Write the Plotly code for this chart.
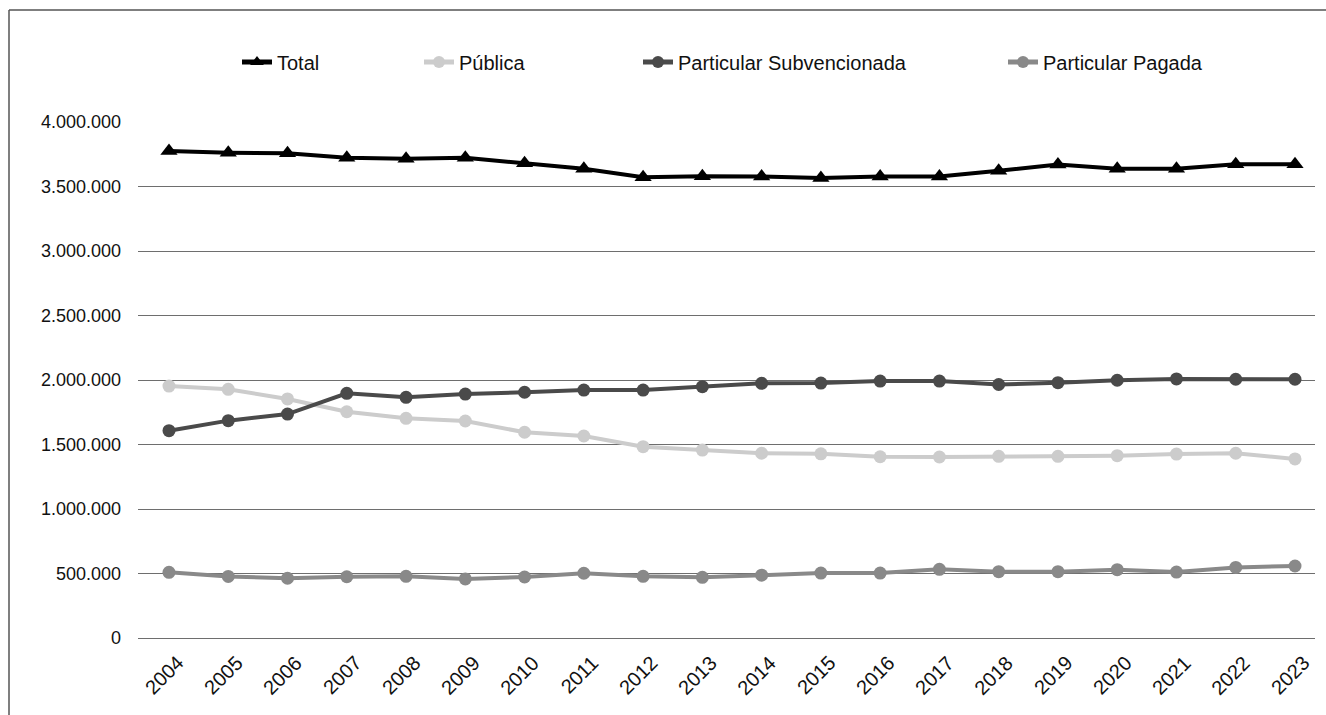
import plotly.graph_objects as go

# Matrícula por dependencia administrativa, 2004-2023
years = ["2004", "2005", "2006", "2007", "2008", "2009", "2010", "2011", "2012", "2013",
         "2014", "2015", "2016", "2017", "2018", "2019", "2020", "2021", "2022", "2023"]

total = [3775000, 3762000, 3757000, 3723000, 3716000, 3722000, 3680000, 3637000, 3572000, 3580000,
         3577000, 3566000, 3577000, 3577000, 3622000, 3670000, 3638000, 3638000, 3672000, 3672000]

publica = [1953000, 1928000, 1853000, 1754000, 1703000, 1682000, 1595000, 1566000, 1483000, 1457000,
           1432000, 1428000, 1405000, 1403000, 1408000, 1408000, 1413000, 1426000, 1432000, 1388000]

subvencionada = [1607000, 1685000, 1736000, 1897000, 1866000, 1891000, 1905000, 1922000, 1922000, 1948000,
                 1974000, 1976000, 1992000, 1992000, 1965000, 1979000, 1998000, 2008000, 2006000, 2006000]

pagada = [509000, 477000, 463000, 475000, 478000, 458000, 473000, 502000, 478000, 470000,
          487000, 503000, 503000, 532000, 514000, 514000, 530000, 511000, 547000, 558000]

y_ticks = [0, 500000, 1000000, 1500000, 2000000, 2500000, 3000000, 3500000, 4000000]
y_tick_text = ["0", "500.000", "1.000.000", "1.500.000", "2.000.000",
               "2.500.000", "3.000.000", "3.500.000", "4.000.000"]

W, H = 1326, 715
PL, PR, PT, PB = 138, 1315, 122, 638   # plot area in pixels
pw, ph = PR - PL, PB - PT


def px(x):
    return (x - PL) / pw


def py(y):
    return (PB - y) / ph


FONT = "Liberation Sans, Arial, sans-serif"

series = [
    ("Total", total, "#000000", "triangle-up", 15, "legend", 280),
    ("Pública", publica, "#cccccc", "circle", 13, "legend2", 462),
    ("Particular Subvencionada", subvencionada, "#4a4a4a", "circle", 13, "legend3", 681),
    ("Particular Pagada", pagada, "#898989", "circle", 13, "legend4", 1046),
]

fig = go.Figure()
legends = {}
for name, vals, color, symbol, size, leg, text_x in series:
    fig.add_trace(go.Scatter(
        x=years, y=vals, name=name, mode="lines+markers",
        line=dict(color=color, width=4),
        marker=dict(color=color, symbol=symbol, size=size),
        legend=leg,
    ))
    legends[leg] = dict(
        x=px(text_x - 43), y=py(62), xanchor="left", yanchor="middle",
        orientation="h", bgcolor="rgba(0,0,0,0)", borderwidth=0,
        font=dict(family=FONT, size=20, color="#111111"),
        itemsizing="constant",
    )

# Year labels, rotated and centred under each point
annotations = []
for i, yr in enumerate(years):
    annotations.append(dict(
        x=i - 0.08, y=py(675), xref="x", yref="paper", text=yr, showarrow=False,
        textangle=-45, xanchor="center", yanchor="middle",
        font=dict(family=FONT, size=20, color="#111111"),
    ))

shapes = [
    # outer frame (left and top edges)
    dict(type="line", xref="paper", yref="paper", x0=px(9), x1=px(9), y0=py(10), y1=py(716),
         line=dict(color="#555555", width=1.5)),
    dict(type="line", xref="paper", yref="paper", x0=px(9), x1=px(1327), y0=py(10), y1=py(10),
         line=dict(color="#555555", width=1.5)),
]

fig.update_layout(
    width=W, height=H,
    margin=dict(l=PL, r=W - PR, t=PT, b=H - PB),
    paper_bgcolor="white", plot_bgcolor="white",
    showlegend=True,
    annotations=annotations,
    shapes=shapes,
    **legends,
)

fig.update_xaxes(
    type="category", range=[-0.523, 19.3375],
    showticklabels=False, showgrid=False, zeroline=False, showline=False, ticks="",
)
fig.update_yaxes(
    range=[0, 4000000], tickvals=y_ticks, ticktext=y_tick_text,
    showgrid=True, gridcolor="#6e6e6e", gridwidth=1,
    zeroline=True, zerolinecolor="#6e6e6e", zerolinewidth=1,
    showline=False, ticks="",
    tickfont=dict(family=FONT, size=18, color="#111111"),
    ticklabelstandoff=16,
)

fig.write_html("out.html")
